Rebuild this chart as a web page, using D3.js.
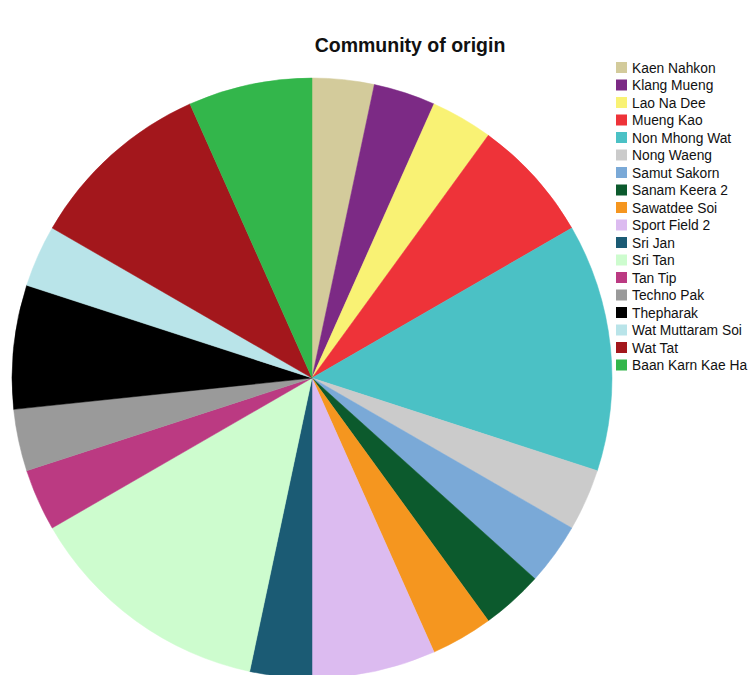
<!DOCTYPE html>
<html>
<head>
<meta charset="utf-8">
<script src="https://cdn.jsdelivr.net/npm/d3@7"></script>
<style>
    body { margin: 0; background: #fff; }
    svg { display: block; }
</style>
</head>
<body>
<div id="chart"></div>
<script>
// categories, in legend / slice order (clockwise from 12 o'clock)
const communities = ['Kaen Nahkon', 'Klang Mueng', 'Lao Na Dee', 'Mueng Kao', 'Non Mhong Wat',
    'Nong Waeng', 'Samut Sakorn', 'Sanam Keera 2', 'Sawatdee Soi', 'Sport Field 2',
    'Sri Jan', 'Sri Tan', 'Tan Tip', 'Techno Pak', 'Thepharak',
    'Wat Muttaram Soi', 'Wat Tat', 'Baan Karn Kae Ha']

// number of participants per community
const counts = [1, 1, 1, 2, 4,
    1, 1, 1, 1, 2,
    1, 4, 1, 1, 2,
    1, 3, 2]

const sliceColors = ['#d3cb9b', '#7c2a85', '#f9f274', '#ee3339', '#4bc1c5',
    '#cbcbcb', '#7aa9d7', '#0c5a2d', '#f5961f', '#dcbbf0',
    '#1b5b74', '#cdfcce', '#bb3a82', '#9a9a9a', '#000000',
    '#b9e4e9', '#a3171c', '#33b64b']

const chartTitle = 'Community of origin'

const width = 749,
    height = 675

const svg = d3.select('#chart').append('svg')
    .attr('width', width)
    .attr('height', height)

drawPie()
drawTitle()
drawLegend()

function drawPie() {
    const cx = 312,
        cy = 378,
        radius = 300

    const color = d3.scaleOrdinal()
        .domain(communities)
        .range(sliceColors)

    const pie = d3.pie()
        .sort(null)
        .value((d, i) => counts[i])

    const arc = d3.arc()
        .innerRadius(0)
        .outerRadius(radius)

    svg.append('g')
        .attr('transform', `translate(${cx}, ${cy})`)
        .selectAll('path')
        .data(pie(communities))
        .enter()
            .append('path')
            .attr('d', arc)
            .style('fill', d => color(d.data))
            .style('stroke', d => color(d.data))
            .style('stroke-width', 0.5)
}

function drawTitle() {
    svg.append('text')
        .attr('x', 410)
        .attr('y', 52)
        .style('text-anchor', 'middle')
        .style('font-family', 'Arial, "Liberation Sans", sans-serif')
        .style('font-weight', 'bold')
        .style('font-size', '19.5px')
        .style('fill', '#111')
        .text(chartTitle)
}

function drawLegend() {
    const top = 62,
        left = 616,
        rowHeight = 17.5,
        side = 11

    const rows = svg.append('g')
        .attr('id', 'legend')
        .attr('transform', `translate(${left}, ${top})`)
        .selectAll('g')
        .data(communities)
        .enter()
            .append('g')
            .attr('transform', (d, i) => `translate(0, ${i * rowHeight})`)

    rows.append('rect')
        .attr('width', side)
        .attr('height', side)
        .style('fill', (d, i) => sliceColors[i])

    rows.append('text')
        .attr('x', 16)
        .attr('y', side - 0.5)
        .style('font-family', 'Arial, "Liberation Sans", sans-serif')
        .style('font-size', '13.8px')
        .style('fill', '#111')
        .text(d => d)
}
</script>
</body>
</html>
